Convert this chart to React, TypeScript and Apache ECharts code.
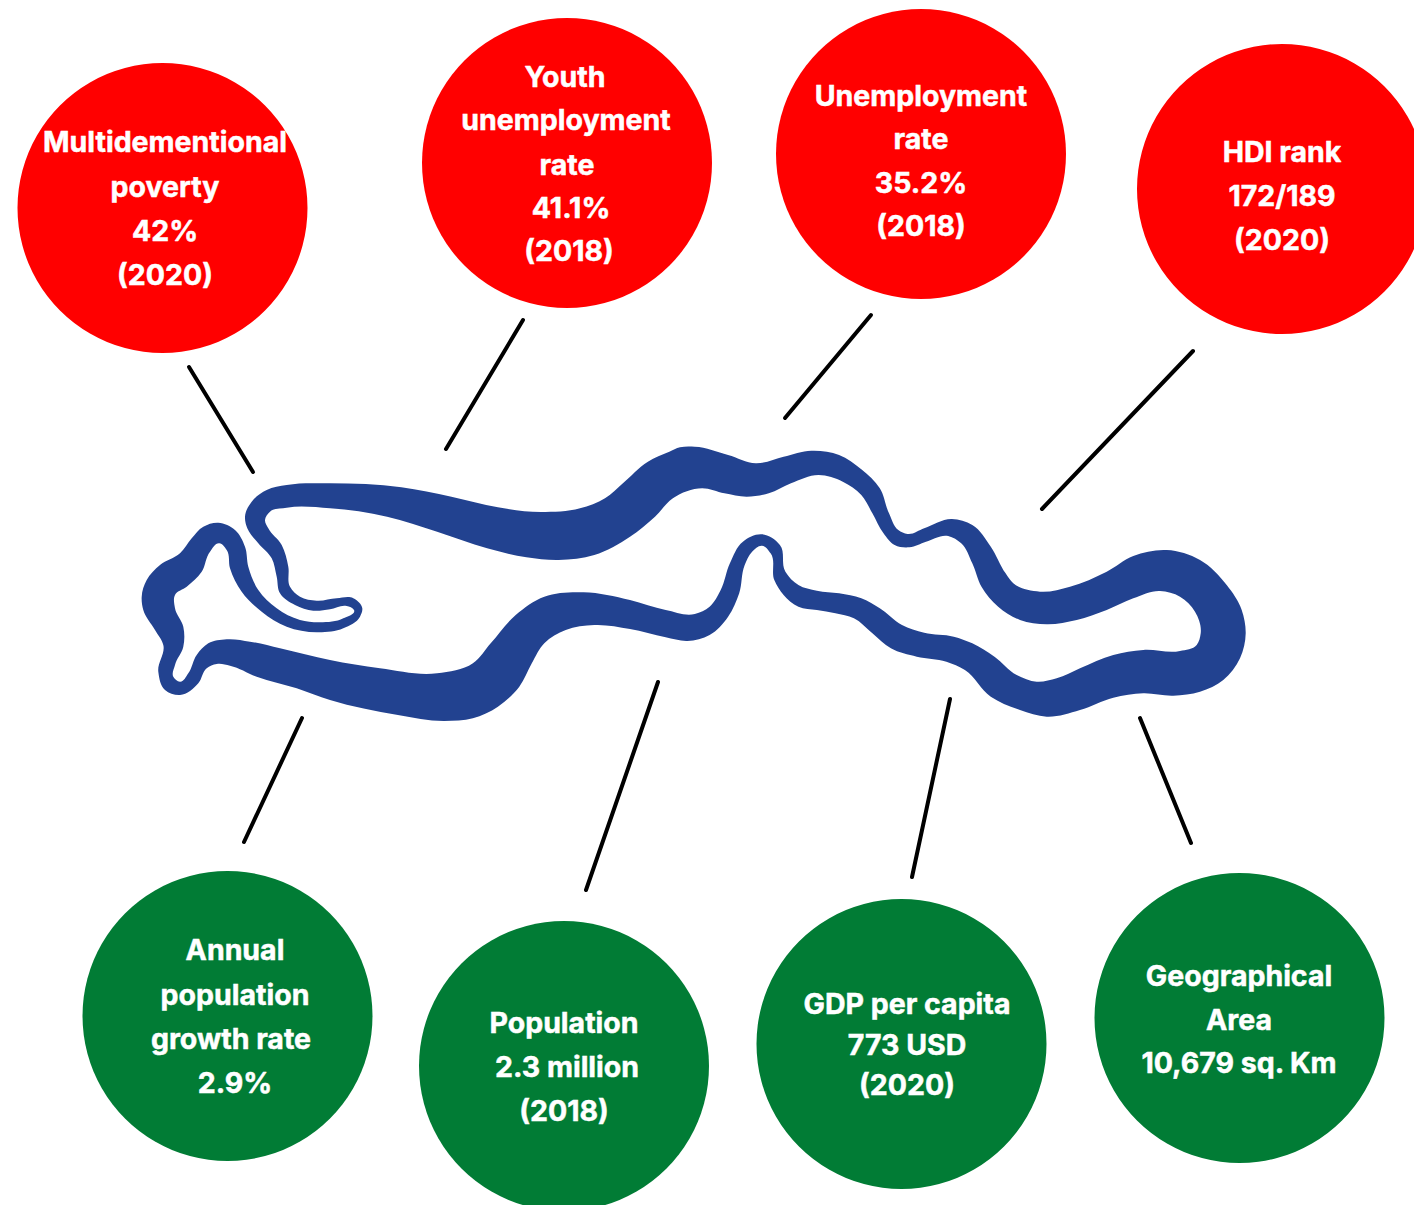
import React, { useEffect, useRef } from "react";
import * as echarts from "echarts";

const RED = "#ff0000";
const GREEN = "#017c35";
const BLUE = "#224290";

const redLabels = [
  ["Multidementional", "poverty", "42%", "(2020)"],
  ["Youth", "unemployment", "rate", "41.1%", "(2018)"],
  ["Unemployment", "rate", "35.2%", "(2018)"],
  ["HDI rank", "172/189", "(2020)"],
];
const greenLabels = [
  ["Annual", "population", "growth rate", "2.9%"],
  ["Population", "2.3 million", "(2018)"],
  ["GDP per capita", "773 USD", "(2020)"],
  ["Geographical", "Area", "10,679 sq. Km"],
];

const redCircles = [[162.5, 208], [567, 163], [921, 154], [1282, 189]];
const greenCircles = [[227.5, 1016], [564, 1066], [901.5, 1044], [1239.5, 1018]];
const redTextPos = [
  [[165, 141], [165, 186], [165, 230], [165, 274]],
  [[565, 76], [566, 119], [567, 164], [571, 207], [569, 250]],
  [[921, 95], [921, 138], [921, 182], [921, 225]],
  [[1282, 151], [1282, 195], [1282, 239]],
];
const greenTextPos = [
  [[235, 949], [235, 994], [231, 1038], [235, 1082]],
  [[564, 1022], [567, 1066], [564, 1110]],
  [[907, 1003], [907, 1044], [907, 1084]],
  [[1239, 975], [1239, 1019], [1239, 1062]],
];
const connectors = [
  [189, 367, 253, 472],
  [523, 320, 446, 449],
  [871, 315, 785, 418],
  [1193, 351, 1042, 509],
  [302, 718, 244, 842],
  [658, 682, 586, 890],
  [950, 699, 912, 877],
  [1140, 718, 1191, 843],
];

type P = number[];
const A = (l: P[]): P[] => l.map(([x, y]) => [130 + x / 2.8, 430 + y / 3]);
const B = (l: P[]): P[] => l.map(([x, y]) => [680 + x / 2.703, 430 + y / 3]);
const C = (l: P[]): P[] => l.map(([x, y]) => [130 + x / 3, 480 + y / 3]);
const D = (l: P[]): P[] => l.map(([x, y]) => [1000 + x / 3, 530 + y / 3]);

const outerPts: P[] = [
  ...C([[345, 110], [365, 65], [410, 30], [470, 15], [600, 10]]),
  ...A([[760, 172], [900, 200], [1030, 232], [1150, 246], [1260, 235], [1330, 205], [1380, 160], [1450, 95], [1510, 65]]),
  ...B([[0, 52], [40, 50], [130, 75], [205, 100], [280, 80], [355, 62], [430, 75], [490, 118], [540, 175], [565, 250], [590, 300], [615, 312], [660, 295], [735, 267], [790, 285], [840, 350], [880, 430]]),
  ...D([[40, 160], [120, 185], [210, 170], [320, 125], [400, 78], [500, 60], [600, 90], [680, 165], [725, 240], [737, 310], [720, 385], [670, 450], [600, 485], [520, 497], [430, 490], [340, 503], [240, 540], [140, 560], [60, 540]]),
  ...B([[840, 800], [770, 720], [720, 695], [640, 680], [570, 655], [520, 610], [470, 565], [420, 550], [370, 540], [320, 530], [280, 495], [255, 450], [245, 370], [222, 347], [195, 365], [175, 405], [160, 490], [130, 560], [80, 615], [20, 633]]),
  ...A([[1500, 622], [1400, 597], [1300, 585], [1220, 600], [1160, 640], [1125, 700], [1090, 770], [1030, 830], [960, 865], [880, 873], [750, 855]]),
  ...C([[600, 660], [500, 625], [380, 590], [300, 557], [260, 552], [230, 565], [205, 610], [150, 645], [105, 630], [85, 575], [100, 495], [75, 450], [40, 390], [35, 350], [50, 300], [90, 255], [150, 220], [185, 175], [220, 140], [265, 128], [315, 150], [345, 200], [355, 260], [385, 330], [440, 385], [510, 420], [570, 427], [640, 415], [672, 390], [650, 378], [600, 388], [550, 392], [495, 375], [450, 340], [440, 290], [425, 235], [385, 190], [352, 145]]),
];
const holePts: P[] = [
  ...C([[405, 120], [420, 95], [470, 83], [600, 85]]),
  ...A([[720, 260], [860, 305], [1000, 355], [1110, 382], [1200, 390], [1300, 375], [1400, 320], [1470, 260], [1520, 205]]),
  ...B([[60, 175], [120, 190], [180, 200], [240, 190], [300, 160], [375, 135], [440, 155], [490, 195], [520, 250], [550, 310], [580, 345], [620, 352], [665, 335], [725, 318], [760, 340], [790, 400], [815, 470], [860, 530]]),
  ...D([[60, 270], [140, 283], [230, 270], [320, 240], [400, 205], [480, 183], [540, 200], [585, 245], [602, 310], [590, 345], [540, 363], [430, 360], [340, 375], [240, 415], [170, 445], [110, 455], [50, 435]]),
  ...B([[850, 680], [790, 640], [740, 620], [660, 608], [600, 585], [540, 535], [490, 505], [430, 490], [370, 482], [320, 465], [285, 425], [270, 345], [220, 313], [170, 335], [135, 400], [110, 480], [80, 530], [40, 552]]),
  ...A([[1500, 540], [1400, 510], [1270, 487], [1160, 500], [1080, 555], [1010, 640], [960, 700], [860, 730]]),
  ...C([[750, 565], [600, 540], [450, 505], [360, 485], [290, 478], [235, 490], [200, 525], [175, 580], [150, 605], [130, 590], [135, 555], [160, 500], [160, 440], [135, 385], [135, 345], [170, 320], [215, 275], [240, 215], [268, 190], [290, 210], [300, 265], [335, 335], [395, 395], [470, 440], [560, 457], [640, 445], [690, 410], [697, 385], [670, 355], [620, 355], [560, 362], [510, 350], [480, 320], [475, 260], [455, 195], [415, 145]]),
].reverse();

function smooth(pts: P[]): string {
  const n = pts.length;
  const tan = (i: number): P => {
    const a = pts[(i - 1 + n) % n];
    const b = pts[i];
    const c = pts[(i + 1) % n];
    const d1 = Math.hypot(b[0] - a[0], b[1] - a[1]) || 1;
    const d2 = Math.hypot(c[0] - b[0], c[1] - b[1]) || 1;
    const tx = (b[0] - a[0]) / d1 * d2 + (c[0] - b[0]) / d2 * d1;
    const ty = (b[1] - a[1]) / d1 * d2 + (c[1] - b[1]) / d2 * d1;
    const l = Math.hypot(tx, ty) || 1;
    return [tx / l, ty / l];
  };
  let d = `M${pts[0][0].toFixed(1)} ${pts[0][1].toFixed(1)}`;
  for (let i = 0; i < n; i++) {
    const p1 = pts[i];
    const p2 = pts[(i + 1) % n];
    const h = Math.hypot(p2[0] - p1[0], p2[1] - p1[1]) / 3;
    const t1 = tan(i);
    const t2 = tan((i + 1) % n);
    d += `C${(p1[0] + t1[0] * h).toFixed(1)} ${(p1[1] + t1[1] * h).toFixed(1)} ${(p2[0] - t2[0] * h).toFixed(1)} ${(p2[1] - t2[1] * h).toFixed(1)} ${p2[0].toFixed(1)} ${p2[1].toFixed(1)}`;
  }
  return d + "Z";
}

echarts.graphic.registerShape("gambiaMap", echarts.graphic.extendPath(smooth(outerPts) + smooth(holePts), {}) as any);

function bubble(center: number[], fill: string, lines: string[], pos: number[][]) {
  return [
    { type: "circle", shape: { cx: center[0], cy: center[1], r: 145 }, style: { fill } },
    ...lines.map((text, i) => ({
      type: "text",
      z: 5,
      style: {
        text,
        x: pos[i][0],
        y: pos[i][1] + 0.5,
        fill: "#ffffff",
        stroke: "#ffffff",
        lineWidth: 0.5,
        fontFamily: "Inter",
        fontWeight: 700,
        fontSize: 28.5,
        textAlign: "center",
        textVerticalAlign: "middle",
      },
    })),
  ];
}

export default function App() {
  const ref = useRef<HTMLDivElement>(null);
  useEffect(() => {
    document.body.style.margin = "0";
    document.body.style.overflow = "hidden";
    const chart = echarts.init(ref.current!, undefined, { renderer: "svg" });
    chart.setOption({
      animation: false,
      backgroundColor: "#ffffff",
      graphic: {
        elements: [
          { type: "gambiaMap", x: 0, y: 0, style: { fill: BLUE } },
          ...connectors.map(([x1, y1, x2, y2]) => ({
            type: "line",
            shape: { x1, y1, x2, y2 },
            style: { stroke: "#000000", lineWidth: 4, lineCap: "round" },
          })),
          ...redLabels.flatMap((l, i) => bubble(redCircles[i], RED, l, redTextPos[i])),
          ...greenLabels.flatMap((l, i) => bubble(greenCircles[i], GREEN, l, greenTextPos[i])),
        ],
      },
    });
    return () => chart.dispose();
  }, []);
  return <div ref={ref} style={{ width: 1414, height: 1205 }} />;
}
